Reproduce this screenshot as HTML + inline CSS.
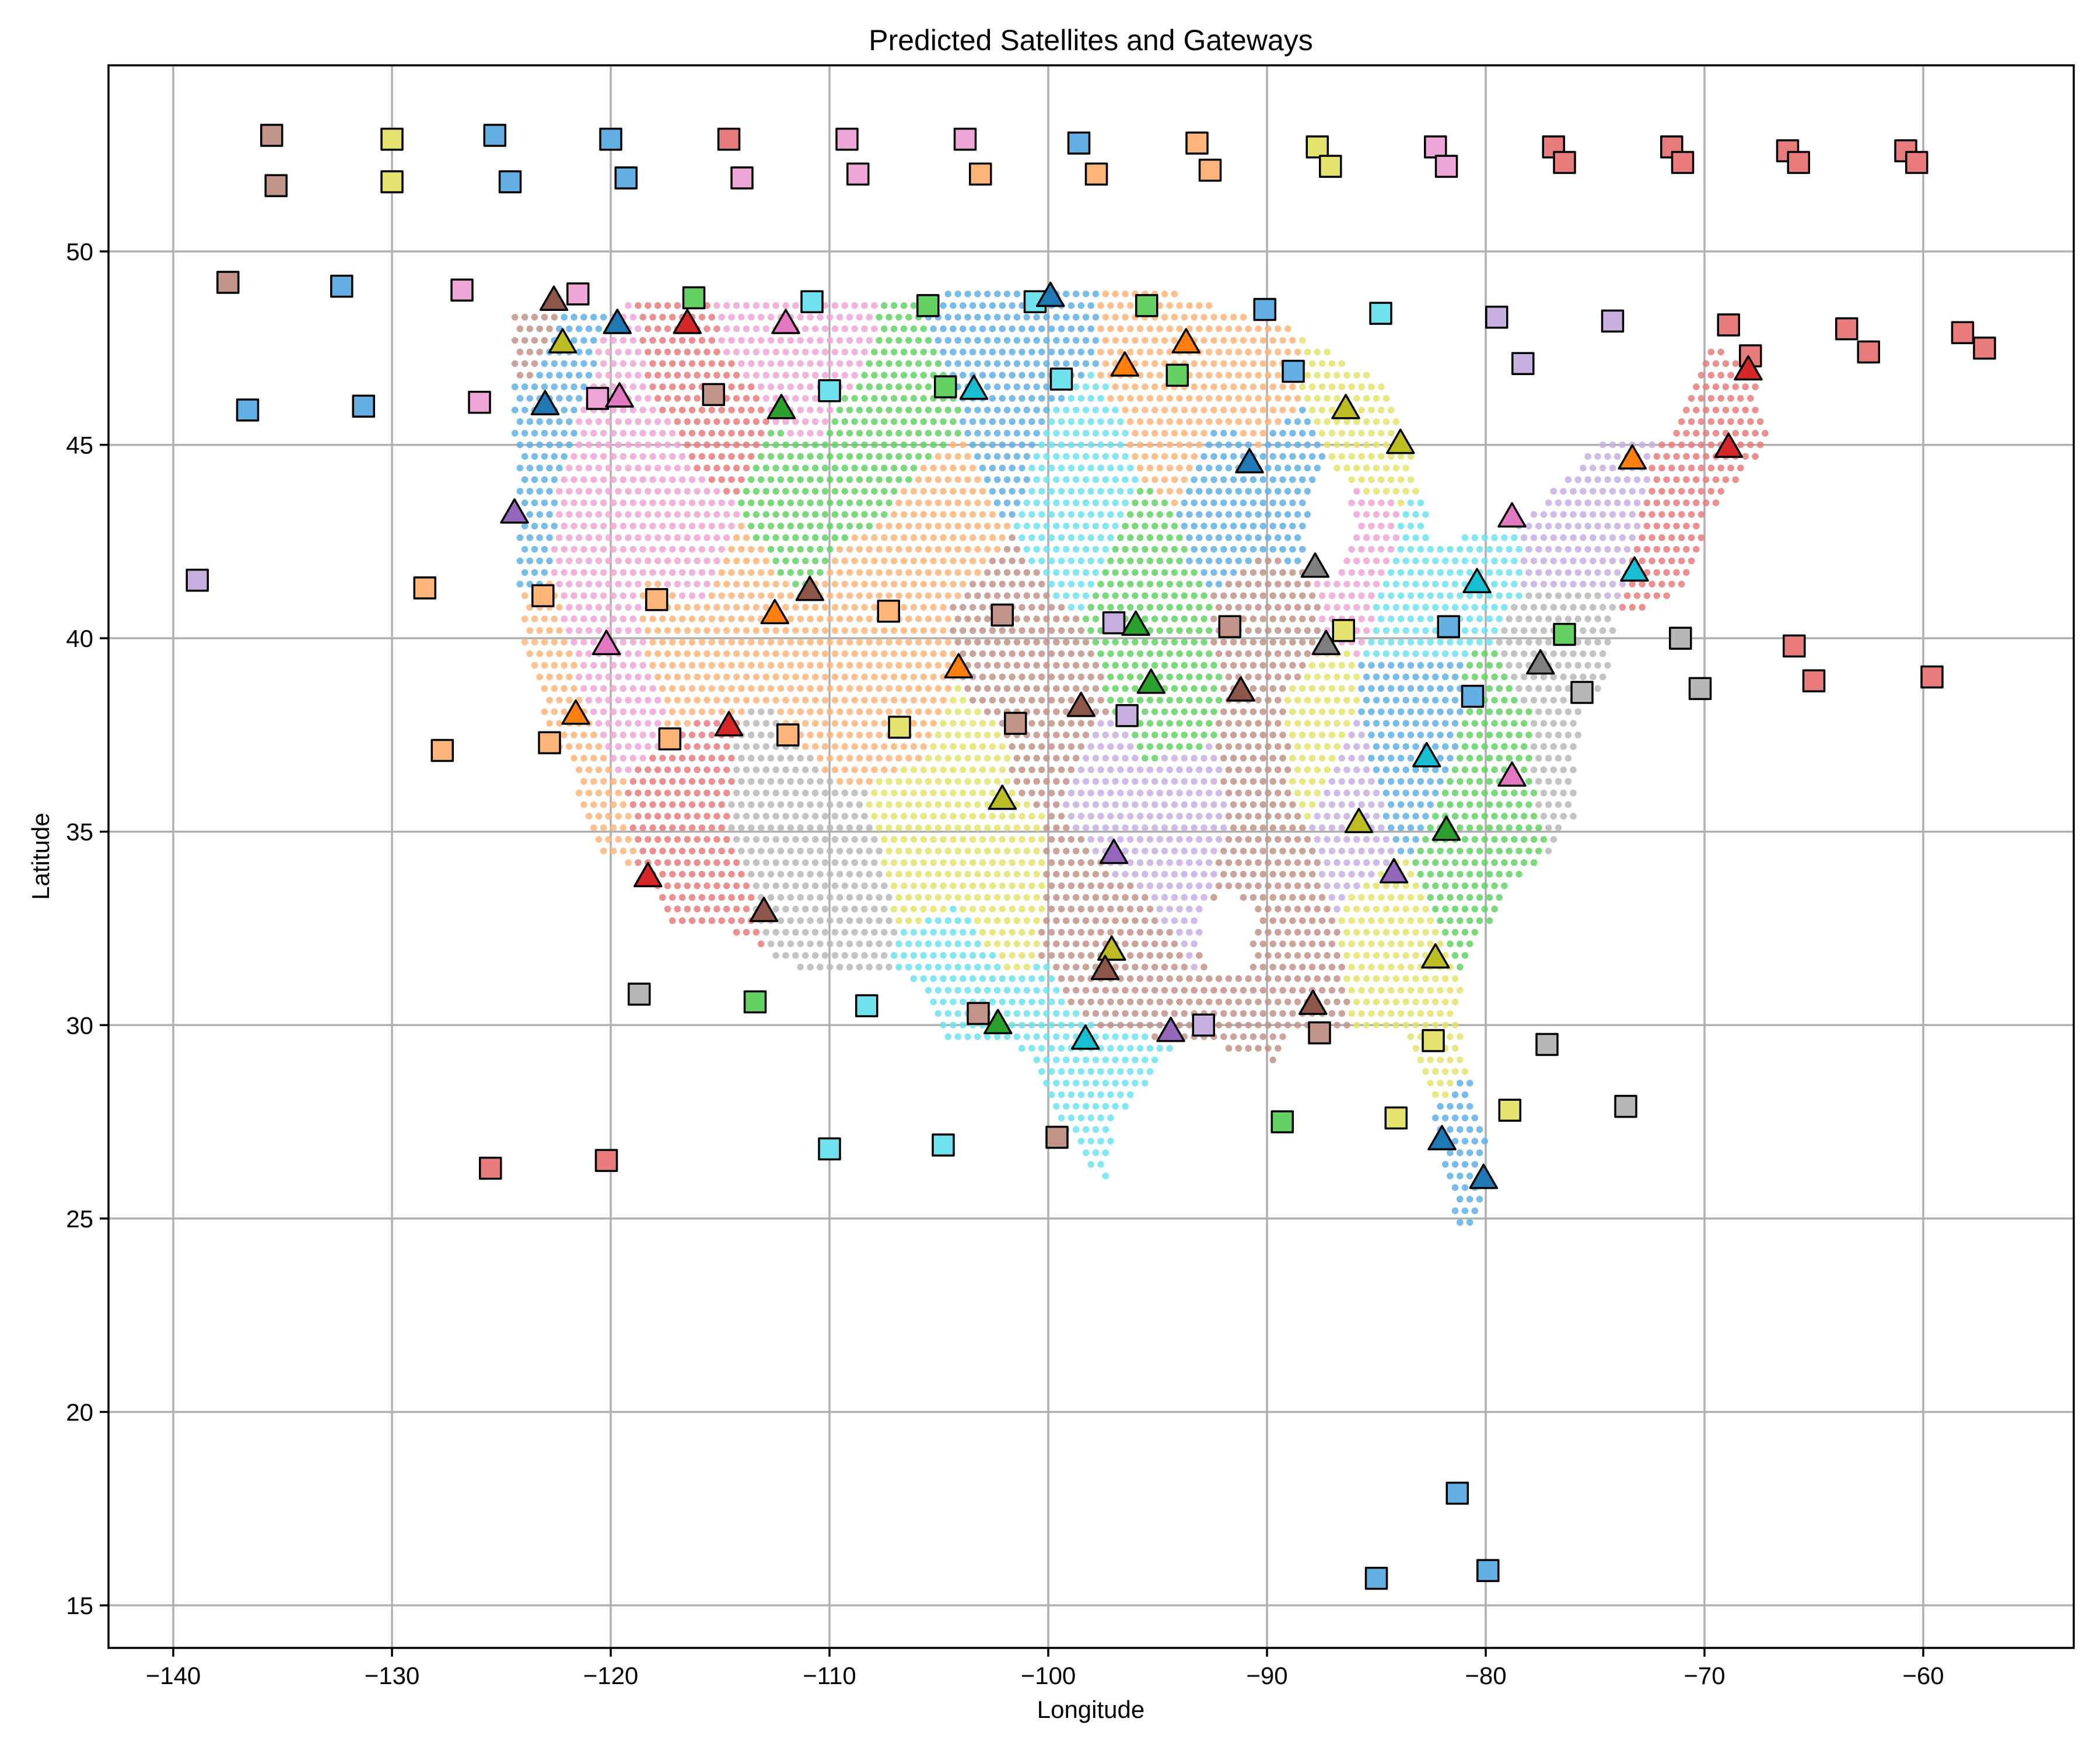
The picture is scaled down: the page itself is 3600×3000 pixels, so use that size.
<!DOCTYPE html>
<html><head><meta charset="utf-8"><style>
html,body{margin:0;padding:0;background:#fff}
svg{display:block;font-family:"Liberation Sans","DejaVu Sans",sans-serif}
</style></head><body>
<svg id="chart" width="3600" height="3000" viewBox="0 0 3600 3000" xmlns="http://www.w3.org/2000/svg">
<rect width="3600" height="3000" fill="#fff"/>
<g id="grid"></g>
<g id="dots"></g>
<g id="gws"></g>
<g id="sats"></g>
<rect x="186" y="112" width="3369" height="2713" fill="none" stroke="#000" stroke-width="3.5"/>
<g id="axes"></g>
<text x="1870" y="86" font-size="50" text-anchor="middle">Predicted Satellites and Gateways</text>
<text x="1870" y="2945" font-size="42" text-anchor="middle">Longitude</text>
<text x="84" y="1468" font-size="42" text-anchor="middle" transform="rotate(-90 84 1468)">Latitude</text>
</svg>
<script>
const xTicks=[-140,-130,-120,-110,-100,-90,-80,-70,-60];
const yTicks=[15,20,25,30,35,40,45,50];
const lightColors={blue:"#62b0e4",brown:"#c19489",red:"#e87c7c",orange:"#fdb57a",green:"#65d165",pink:"#eea6d6",purple:"#c7afe0",gray:"#b8b8b8",yellow:"#e3e36e",cyan:"#6fe2ee"};
const darkColors={blue:"#1f77b4",brown:"#8c564b",red:"#d62728",orange:"#ff7f0e",green:"#2ca02c",pink:"#e377c2",purple:"#9467bd",gray:"#7f7f7f",yellow:"#bcbd22",cyan:"#17becf"};
const gateways=[
[-135.5,53,"brown"],[-135.3,51.7,"brown"],[-130,52.9,"yellow"],[-130,51.8,"yellow"],[-125.3,53,"blue"],[-124.6,51.8,"blue"],[-120,52.9,"blue"],[-119.3,51.9,"blue"],[-114.6,52.9,"red"],[-114,51.9,"pink"],[-109.2,52.9,"pink"],[-108.7,52,"pink"],[-103.8,52.9,"pink"],[-103.1,52,"orange"],[-98.6,52.8,"blue"],[-97.8,52,"orange"],[-93.2,52.8,"orange"],[-92.6,52.1,"orange"],[-87.7,52.7,"yellow"],[-87.1,52.2,"yellow"],[-82.3,52.7,"pink"],[-81.8,52.2,"pink"],[-76.9,52.7,"red"],[-76.4,52.3,"red"],[-71.5,52.7,"red"],[-71,52.3,"red"],[-66.2,52.6,"red"],[-65.7,52.3,"red"],[-60.8,52.6,"red"],[-60.3,52.3,"red"],
[-137.5,49.2,"brown"],[-132.3,49.1,"blue"],[-126.8,49,"pink"],[-121.5,48.9,"pink"],[-116.2,48.8,"green"],[-110.8,48.7,"cyan"],[-105.5,48.6,"green"],[-100.6,48.7,"cyan"],[-95.5,48.6,"green"],[-90.1,48.5,"blue"],[-84.8,48.4,"cyan"],[-79.5,48.3,"purple"],[-74.2,48.2,"purple"],[-68.9,48.1,"red"],[-63.5,48,"red"],[-58.2,47.9,"red"],
[-136.6,45.9,"blue"],[-131.3,46,"blue"],[-126,46.1,"pink"],[-120.6,46.2,"pink"],[-115.3,46.3,"brown"],[-110,46.4,"cyan"],[-104.7,46.5,"green"],[-99.4,46.7,"cyan"],[-94.1,46.8,"green"],[-88.8,46.9,"blue"],[-78.3,47.1,"purple"],[-67.9,47.3,"red"],[-62.5,47.4,"red"],[-57.2,47.5,"red"],
[-138.9,41.5,"purple"],[-128.5,41.3,"orange"],[-123.1,41.1,"orange"],[-117.9,41,"orange"],[-107.3,40.7,"orange"],[-102.1,40.6,"brown"],[-97,40.4,"purple"],[-91.7,40.3,"brown"],[-86.5,40.2,"yellow"],[-81.7,40.3,"blue"],[-76.4,40.1,"green"],[-71.1,40,"gray"],[-65.9,39.8,"red"],[-75.6,38.6,"gray"],[-70.2,38.7,"gray"],[-65,38.9,"red"],[-59.6,39,"red"],[-80.6,38.5,"blue"],
[-127.7,37.1,"orange"],[-122.8,37.3,"orange"],[-117.3,37.4,"orange"],[-111.9,37.5,"orange"],[-106.8,37.7,"yellow"],[-101.5,37.8,"brown"],[-96.4,38,"purple"],
[-118.7,30.8,"gray"],[-113.4,30.6,"green"],[-108.3,30.5,"cyan"],[-103.2,30.3,"brown"],[-92.9,30,"purple"],[-87.6,29.8,"brown"],[-82.4,29.6,"yellow"],[-77.2,29.5,"gray"],
[-125.5,26.3,"red"],[-120.2,26.5,"red"],[-110,26.8,"cyan"],[-104.8,26.9,"cyan"],[-99.6,27.1,"brown"],[-89.3,27.5,"green"],[-84.1,27.6,"yellow"],[-78.9,27.8,"yellow"],[-73.6,27.9,"gray"],
[-81.3,17.9,"blue"],[-79.9,15.9,"blue"],[-85,15.7,"blue"]];
const satellites=[
[-122.6,48.7,"brown"],[-122.2,47.6,"yellow"],[-119.7,48.1,"blue"],[-116.5,48.1,"red"],[-112,48.1,"pink"],[-99.9,48.8,"blue"],[-123,46,"blue"],[-119.6,46.2,"pink"],[-112.2,45.9,"green"],[-103.4,46.4,"cyan"],[-96.5,47,"orange"],[-93.7,47.6,"orange"],[-86.4,45.9,"yellow"],[-83.9,45,"yellow"],[-90.8,44.5,"blue"],[-124.4,43.2,"purple"],[-73.3,44.6,"orange"],[-68.9,44.9,"red"],[-68,46.9,"red"],[-78.8,43.1,"pink"],[-87.8,41.8,"gray"],[-80.4,41.4,"cyan"],[-73.2,41.7,"cyan"],[-87.3,39.8,"gray"],[-77.5,39.3,"gray"],[-110.9,41.2,"brown"],[-112.5,40.6,"orange"],[-120.2,39.8,"pink"],[-121.6,38,"orange"],[-114.6,37.7,"red"],[-104.1,39.2,"orange"],[-96,40.3,"green"],[-95.3,38.8,"green"],[-98.5,38.2,"brown"],[-91.2,38.6,"brown"],[-82.7,36.9,"cyan"],[-78.8,36.4,"pink"],[-81.8,35,"green"],[-85.8,35.2,"yellow"],[-84.2,33.9,"purple"],[-102.1,35.8,"yellow"],[-97,34.4,"purple"],[-118.3,33.8,"red"],[-113,32.9,"brown"],[-97.1,31.9,"yellow"],[-97.4,31.4,"brown"],[-82.3,31.7,"yellow"],[-102.3,30,"green"],[-98.3,29.6,"cyan"],[-94.4,29.8,"purple"],[-87.9,30.5,"brown"],[-82,27,"blue"],[-80.1,26,"blue"]];
// coverage-region colour seeds (lon, lat, color)
const regionSeeds=[
[-123.5,48.2,"brown"],[-123.6,45,"blue"],[-124,43.5,"blue"],[-122,47,"blue"],
[-120,46,"pink"],[-121,43,"pink"],[-118,44,"pink"],[-113.5,48.5,"pink"],[-110.5,48,"pink"],[-111,46.8,"pink"],[-120.5,40,"pink"],[-119,38.5,"pink"],[-116,42.5,"pink"],
[-116.5,47.2,"red"],[-115,45.5,"red"],
[-109,44.5,"green"],[-112,43.5,"green"],[-106.5,45.8,"green"],
[-103,48,"blue"],[-100.5,47.5,"blue"],[-101.5,46,"blue"],
[-99,44.5,"cyan"],[-98,43.5,"cyan"],
[-95,47.5,"orange"],[-94,45.5,"orange"],[-90.5,46.7,"orange"],[-105,43,"orange"],[-108,41,"orange"],[-114,41,"orange"],[-110,39,"orange"],[-106,38.8,"orange"],[-123,39,"orange"],[-122,36.5,"orange"],[-120,34.5,"orange"],[-117,39.5,"orange"],
[-86.5,47,"yellow"],[-85.5,45,"yellow"],[-104,37,"yellow"],[-105,35,"yellow"],[-102,33.5,"yellow"],[-88,37.3,"yellow"],[-84,32,"yellow"],[-83,29.5,"yellow"],
[-86,42.6,"pink"],
[-92,43.8,"blue"],[-89,44,"blue"],
[-96,42,"green"],[-95,40,"green"],[-94.5,38.5,"green"],
[-102.5,39.5,"brown"],[-100,38,"brown"],[-90,40,"brown"],[-90,37,"brown"],[-90,34,"brown"],[-89,31,"brown"],[-97.5,32,"brown"],[-98.5,33.3,"brown"],
[-118,35,"red"],[-116,33,"red"],[-116.5,36,"red"],
[-112.5,35.5,"gray"],[-110,33,"gray"],
[-97,35.5,"purple"],[-94,35.5,"purple"],[-86,35.8,"purple"],
[-104,31,"cyan"],[-100.5,29.3,"cyan"],[-98,28,"cyan"],
[-81,26.5,"blue"],[-83,38,"blue"],[-84,36.7,"blue"],
[-83,41,"cyan"],[-80,42.5,"cyan"],
[-80,36,"green"],[-81,34,"green"],[-79.5,37.3,"green"],
[-77,39.5,"gray"],[-76.2,37.5,"gray"],
[-77,43,"purple"],[-75.5,43.8,"purple"],
[-69,45,"red"],[-70.5,42,"red"]];
const usOutline=[[-124.5,48.5],[-95,49.1],[-89,48],[-84.5,46.5],[-83,44],[-82.5,42.5],[-79,42.8],[-76.5,44],[-75,45],[-71.5,45],[-70,47.5],[-68,47.3],[-67,45],[-70,43],[-70.5,41.5],[-72,41],[-74,40.5],[-74.5,39],[-75.5,38],[-76,36.5],[-75.8,35.5],[-77,34.5],[-79,33.5],[-81,31.5],[-81.3,30],[-80,27],[-80.2,25],[-81.2,24.7],[-82,26.5],[-82.7,28.5],[-83.7,30],[-85.5,29.8],[-89,30],[-89.5,29],[-91,29.3],[-94,29.6],[-97,27.5],[-97.3,26],[-98,26.2],[-99.5,27.5],[-101.5,29.7],[-104.5,29.5],[-106.5,31.5],[-108.5,31.3],[-111,31.3],[-114.8,32.5],[-117.1,32.5],[-118.5,34],[-120.5,34.5],[-121.8,36.5],[-123,38],[-124,40],[-124.3,42.5]];
const lakeHole=[[-88.5,41.8],[-87,41.6],[-86,42.5],[-86.2,44],[-87.5,44.5],[-88.2,43]];
const gapHole=[[-92.8,31.3],[-91,31.3],[-90.4,32.8],[-91.5,33.6],[-93,33]];

const NS="http://www.w3.org/2000/svg";
const X0=186,X1=3555,Y0=112,Y1=2825;
const xmin=-142.96,xmax=-53.12,ymin=13.90,ymax=54.81;
function sx(v){return X0+(v-xmin)/(xmax-xmin)*(X1-X0);}
function sy(v){return Y1-(v-ymin)/(ymax-ymin)*(Y1-Y0);}
function mk(tag,attrs,parent){const e=document.createElementNS(NS,tag);for(const k in attrs)e.setAttribute(k,attrs[k]);parent.appendChild(e);return e;}
const grid=document.getElementById('grid'),axes=document.getElementById('axes');
xTicks.forEach(t=>{
  const l=mk('line',{x1:sx(t),x2:sx(t),y1:Y0,y2:Y1,stroke:'#b0b0b0','stroke-width':3.5},grid);
  
  
  const k=mk('line',{x1:sx(t),x2:sx(t),y1:Y1,y2:Y1+15,stroke:'#000','stroke-width':3.5},axes);
  
  
  const tx=mk('text',{x:sx(t),y:Y1+62,'font-size':42,'text-anchor':'middle'},axes);
  tx.textContent=String(t).replace('-','\u2212');
  
  
});
yTicks.forEach(t=>{
  const l=mk('line',{x1:X0,x2:X1,y1:sy(t),y2:sy(t),stroke:'#b0b0b0','stroke-width':3.5},grid);
  
  
  const k=mk('line',{x1:X0-15,x2:X0,y1:sy(t),y2:sy(t),stroke:'#000','stroke-width':3.5},axes);
  
  
  const tx=mk('text',{x:X0-26,y:sy(t)+15,'font-size':42,'text-anchor':'end'},axes);
  tx.textContent=String(t);
  
  
});
function inPoly(x,y,p){let c=false;for(let i=0,j=p.length-1;i<p.length;j=i++){const xi=p[i][0],yi=p[i][1],xj=p[j][0],yj=p[j][1];if(((yi>y)!=(yj>y))&&(x<(xj-xi)*(y-yi)/(yj-yi)+xi))c=!c;}return c;}
const dots=document.getElementById('dots');
let row=0;
for(let la=24.6;la<=49.2;la+=0.3,row++){
  for(let lo=-124.6+(row%2)*0.22;lo<=-66.5;lo+=0.45){
    if(!inPoly(lo,la,usOutline)||inPoly(lo,la,lakeHole)||inPoly(lo,la,gapHole))continue;
    let best=null,bd=1e9;
    regionSeeds.forEach(s=>{const d=(s[0]-lo)**2+(s[1]-la)**2;if(d<bd){bd=d;best=s;}});
    const c=mk('circle',{cx:sx(lo),cy:sy(la),r:5.8,fill:lightColors[best[2]],opacity:0.85},dots);
    
    
  }
}
const gws=document.getElementById('gws');
gateways.forEach(g=>{
  const r=mk('rect',{x:sx(g[0])-18,y:sy(g[1])-18,width:36,height:36,fill:lightColors[g[2]],stroke:'#000','stroke-width':3.5,'stroke-linejoin':'round'},gws);
  
  
});
const sats=document.getElementById('sats');
satellites.forEach(s=>{
  const x=sx(s[0]),y=sy(s[1]);
  const p=mk('polygon',{points:`${x},${y-26} ${x-23},${y+14} ${x+23},${y+14}`,fill:darkColors[s[2]],stroke:'#000','stroke-width':3.5,'stroke-linejoin':'round'},sats);
  
  
});
</script>
</body></html>
